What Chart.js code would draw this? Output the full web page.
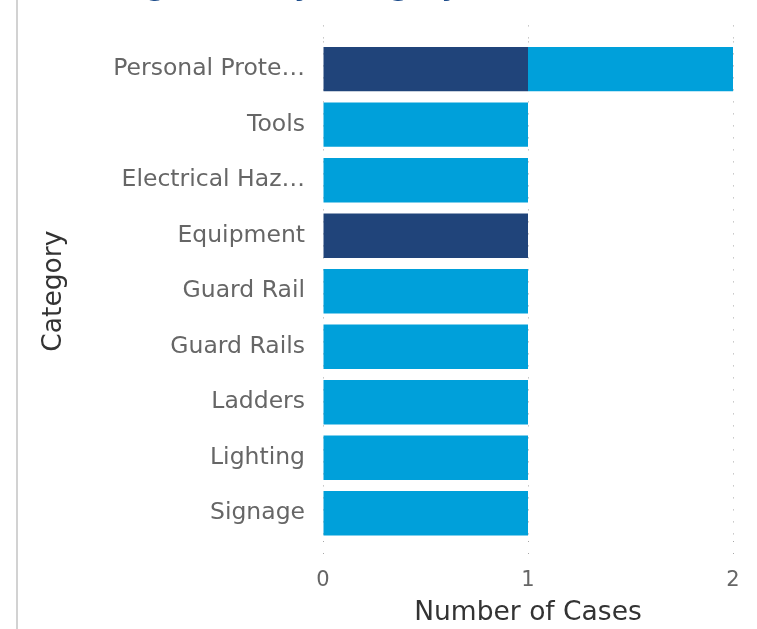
<!DOCTYPE html>
<html>
<head>
<meta charset="utf-8">
<title>Finding Count by Category</title>
<script src="https://cdn.jsdelivr.net/npm/chart.js@4/dist/chart.umd.min.js"></script>
<style>
  html, body { margin: 0; padding: 0; background: #ffffff; overflow: hidden; }
  #page { position: relative; width: 757px; height: 629px; overflow: hidden; background: #ffffff; }
  #rule { position: absolute; left: 16px; top: 0; width: 2px; height: 629px; background: #d2d2d2; }
  #holder { position: absolute; left: 19px; top: -28px; width: 738px; height: 657px; }
</style>
</head>
<body>
<div id="page">
  <div id="rule"></div>
  <div id="holder"><canvas id="chart"></canvas></div>
</div>
<script>
// Categories, top to bottom
const categories = [
  'Personal Prote\u2026',
  'Tools',
  'Electrical Haz\u2026',
  'Equipment',
  'Guard Rail',
  'Guard Rails',
  'Ladders',
  'Lighting',
  'Signage'
];

// Case counts per category, one array per stacked series
const seriesDark  = [1, 0, 0, 1, 0, 0, 0, 0, 0];
const seriesLight = [1, 1, 1, 0, 1, 1, 1, 1, 1];

// Value axis ticks
const xTicks = [0, 1, 2];

const FONT = "'DejaVu Sans', Verdana, sans-serif";
const GRID = '#a8a8a8';

new Chart(document.getElementById('chart'), {
  type: 'bar',
  data: {
    labels: categories,
    datasets: [
      { label: 'Series 1', data: seriesDark,  backgroundColor: '#20447a', borderWidth: 0,
        barPercentage: 0.8, categoryPercentage: 1.0 },
      { label: 'Series 2', data: seriesLight, backgroundColor: '#00a0da', borderWidth: 0,
        barPercentage: 0.8, categoryPercentage: 1.0 }
    ]
  },
  options: {
    indexAxis: 'y',
    responsive: true,
    maintainAspectRatio: false,
    animation: false,
    devicePixelRatio: 1,
    layout: { padding: { left: 33, right: 24, top: 0, bottom: 0 } },
    plugins: {
      legend: { display: false },
      tooltip: { enabled: false },
      title: {
        display: true,
        text: 'Finding Count by Category',
        align: 'start',
        color: '#1f4e8c',
        font: { family: FONT, size: 27, lineHeight: 1.2 },
        padding: { top: 0, bottom: 21 }
      }
    },
    scales: {
      x: {
        type: 'linear',
        position: 'bottom',
        stacked: true,
        min: 0,
        max: 2,
        afterBuildTicks(scale) { scale.ticks = xTicks.map(v => ({ value: v })); },
        border: { display: false, dash: [1, 11] },
        grid: {
          color: GRID,
          lineWidth: 1,
          drawTicks: true,
          tickLength: 15,
          tickColor: GRID,
          tickBorderDash: [1, 11]
        },
        ticks: {
          color: '#666666',
          padding: 12,
          font: { family: FONT, size: 21, lineHeight: 1.2 }
        },
        title: {
          display: true,
          text: 'Number of Cases',
          color: '#333333',
          font: { family: FONT, size: 26.5, lineHeight: 1.2 },
          padding: { top: -8, bottom: 0 }
        }
      },
      xTop: {
        type: 'linear',
        position: 'top',
        min: 0,
        max: 2,
        afterBuildTicks(scale) { scale.ticks = xTicks.map(v => ({ value: v })); },
        border: { display: false },
        grid: {
          drawOnChartArea: false,
          drawTicks: true,
          tickLength: 16,
          tickColor: GRID,
          tickBorderDash: [1, 11]
        },
        ticks: { display: false }
      },
      y: {
        stacked: true,
        border: { display: false },
        grid: { display: false, drawTicks: false },
        afterFit(scale) { scale.width = 271; },
        ticks: {
          color: '#666666',
          padding: 18,
          font: { family: FONT, size: 23.5, lineHeight: 1.2 }
        },
        title: {
          display: true,
          text: 'Category',
          color: '#333333',
          font: { family: FONT, size: 26.5, lineHeight: 1.2 },
          padding: { top: -14, bottom: 0 }
        }
      }
    }
  }
});
</script>
</body>
</html>
